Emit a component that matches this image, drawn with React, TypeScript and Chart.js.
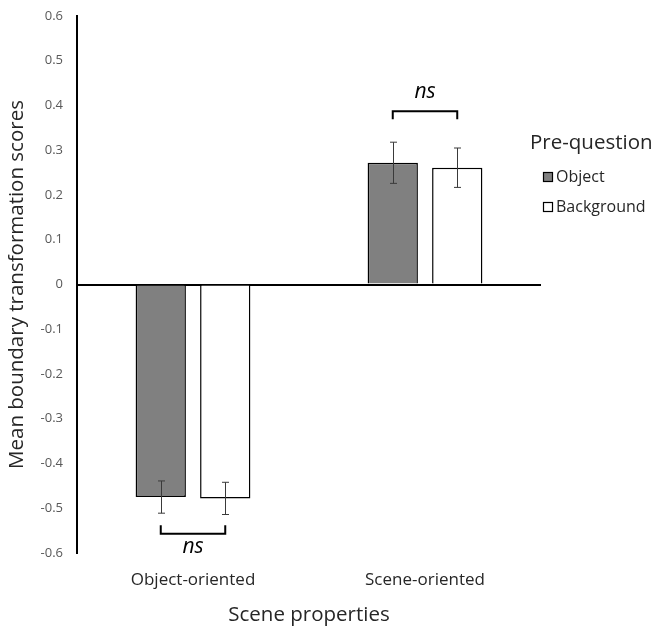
import React, { useEffect, useRef } from "react";
import { Chart, registerables } from "chart.js";

Chart.register(...registerables);

const categories = ["Object-oriented", "Scene-oriented"];
const seriesNames = ["Object", "Background"];
const objectValues = [-0.475, 0.272];
const backgroundValues = [-0.478, 0.261];
const objectErrors = [0.036, 0.046];
const backgroundErrors = [0.036, 0.044];
const yTicksMin = -0.6;
const yTicksMax = 0.6;
const yTickStep = 0.1;
// significance brackets: [categoryIndex, bracket value, tip value, label]
const bracketCategory = [1, 0];
const bracketLevel = [0.387, -0.557];
const bracketTip = [0.369, -0.538];
const bracketLabel = ["ns", "ns"];

const FONT = "'Open Sans', 'Noto Sans', sans-serif";
const fills = ["#808080", "#ffffff"];

const errorBarPlugin = {
  id: "errorBars",
  afterDatasetsDraw(chart: any) {
    const ctx = chart.ctx;
    const y = chart.scales.y;
    const errs = [objectErrors, backgroundErrors];
    const vals = [objectValues, backgroundValues];
    ctx.save();
    ctx.strokeStyle = "#3a3a3a";
    ctx.lineWidth = 1;
    for (let d = 0; d < 2; d++) {
      const meta = chart.getDatasetMeta(d);
      meta.data.forEach((el: any, j: number) => {
        const x = Math.round(el.x) + 0.5;
        const top = y.getPixelForValue(vals[d][j] + errs[d][j]);
        const bot = y.getPixelForValue(vals[d][j] - errs[d][j]);
        ctx.beginPath();
        ctx.moveTo(x, top);
        ctx.lineTo(x, bot);
        ctx.moveTo(x - 3.5, top);
        ctx.lineTo(x + 3.5, top);
        ctx.moveTo(x - 3.5, bot);
        ctx.lineTo(x + 3.5, bot);
        ctx.stroke();
      });
    }
    // brackets
    ctx.strokeStyle = "#000";
    ctx.lineWidth = 2;
    ctx.fillStyle = "#000";
    ctx.font = `italic 21px ${FONT}`;
    ctx.textAlign = "center";
    for (let b = 0; b < bracketCategory.length; b++) {
      const c = bracketCategory[b];
      const x1 = chart.getDatasetMeta(0).data[c].x;
      const x2 = chart.getDatasetMeta(1).data[c].x;
      const yl = y.getPixelForValue(bracketLevel[b]);
      const yt = y.getPixelForValue(bracketTip[b]);
      ctx.beginPath();
      ctx.moveTo(x1, yt);
      ctx.lineTo(x1, yl);
      ctx.lineTo(x2, yl);
      ctx.lineTo(x2, yt);
      ctx.stroke();
      const above = yt > yl;
      ctx.textBaseline = "middle";
      ctx.fillText(bracketLabel[b], (x1 + x2) / 2, above ? yl - 19 : yl + 13);
    }
    // legend
    const lx = chart.chartArea.right - 11;
    ctx.textAlign = "left";
    ctx.textBaseline = "middle";
    ctx.fillStyle = "#262626";
    ctx.font = `20.5px ${FONT}`;
    ctx.fillText("Pre-question", lx, 143);
    ctx.font = `16px ${FONT}`;
    const rowY = [177, 207];
    for (let i = 0; i < seriesNames.length; i++) {
      ctx.fillStyle = fills[i];
      ctx.fillRect(lx + 13.5, rowY[i] - 4.5, 9, 9);
      ctx.strokeStyle = "#000";
      ctx.lineWidth = 1.2;
      ctx.strokeRect(lx + 13.5, rowY[i] - 4.5, 9, 9);
      ctx.fillStyle = "#262626";
      ctx.fillText(seriesNames[i], lx + 26, rowY[i]);
    }
    ctx.restore();
  },
};

export default function App() {
  const ref = useRef<HTMLCanvasElement>(null);
  useEffect(() => {
    document.body.style.margin = "0";
    const chart = new Chart(ref.current as HTMLCanvasElement, {
      type: "bar",
      data: {
        labels: categories,
        datasets: [
          {
            label: seriesNames[0],
            data: objectValues,
            backgroundColor: fills[0],
            borderColor: "#000",
            borderWidth: 1.5,
            barPercentage: 0.78,
            categoryPercentage: 0.556,
          },
          {
            label: seriesNames[1],
            data: backgroundValues,
            backgroundColor: fills[1],
            borderColor: "#000",
            borderWidth: 1.5,
            barPercentage: 0.78,
            categoryPercentage: 0.556,
          },
        ],
      },
      options: {
        animation: false,
        responsive: true,
        maintainAspectRatio: false,
        layout: { padding: { left: 0, top: 16, right: 112, bottom: 0 } },
        plugins: { legend: { display: false }, tooltip: { enabled: false } },
        scales: {
          x: {
            grid: { display: false, drawTicks: false },
            border: { display: false },
            ticks: { padding: 17, color: "#262626", font: { family: FONT, size: 17 } },
            title: {
              display: true,
              text: "Scene properties",
              color: "#262626",
              font: { family: FONT, size: 20.5 },
              padding: { top: 0, bottom: 0 },
            },
            afterFit(scale: any) {
              scale.height = 74;
              scale.paddingLeft = 0;
              scale.paddingRight = 0;
            },
          },
          y: {
            min: yTicksMin,
            max: yTicksMax,
            ticks: {
              stepSize: yTickStep,
              padding: 14,
              color: "#595959",
              font: { family: FONT, size: 13 },
              callback: (v: any) => String(Math.round(Number(v) * 10) / 10),
            },
            grid: {
              drawTicks: false,
              color: (c: any) => (c.tick && Math.abs(c.tick.value) < 1e-9 ? "#000" : "rgba(0,0,0,0)"),
              lineWidth: 2,
            },
            border: { display: true, color: "#000", width: 2 },
            title: {
              display: true,
              text: "Mean boundary transformation scores",
              color: "#262626",
              font: { family: FONT, size: 20.5 },
              padding: { top: 5, bottom: 0 },
            },
            afterFit(scale: any) {
              scale.width = 77;
              scale.paddingTop = 0;
              scale.paddingBottom = 0;
            },
          },
        },
      },
      plugins: [errorBarPlugin],
    });
    return () => chart.destroy();
  }, []);
  return (
    <div style={{ position: "relative", width: 653, height: 627, background: "#fff" }}>
      <canvas ref={ref} />
    </div>
  );
}
